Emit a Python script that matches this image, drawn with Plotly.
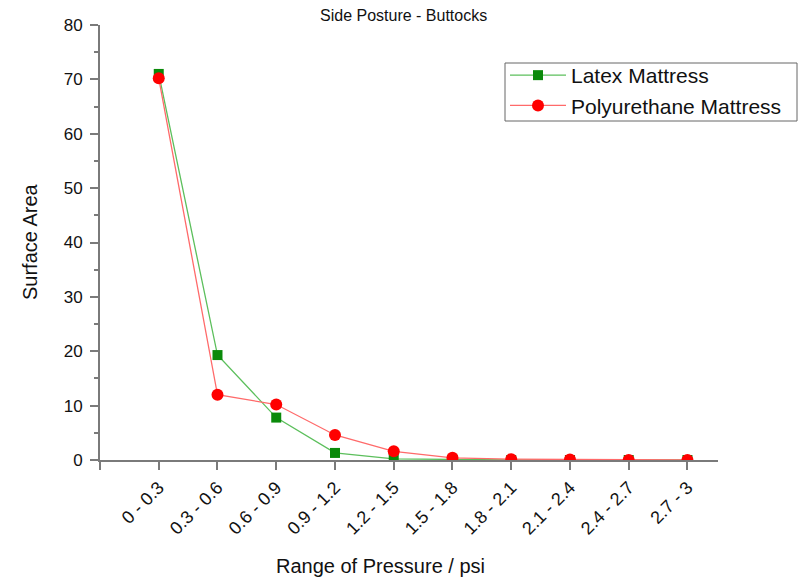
import plotly.graph_objects as go

categories = ["0 - 0.3", "0.3 - 0.6", "0.6 - 0.9", "0.9 - 1.2", "1.2 - 1.5",
              "1.5 - 1.8", "1.8 - 2.1", "2.1 - 2.4", "2.4 - 2.7", "2.7 - 3"]
latex = [71.0, 19.3, 7.8, 1.3, 0.2, 0.05, 0.0, 0.0, 0.0, 0.0]
polyurethane = [70.2, 12.0, 10.2, 4.6, 1.6, 0.4, 0.15, 0.1, 0.0, 0.0]

xpos = list(range(len(categories)))
font = "Liberation Sans, Arial, sans-serif"

# page geometry (pixels)
W, H = 801, 586
L, R, T, B = 100, 83, 25, 126
PW, PH = W - L - R, H - T - B


def px_x(x):
    return (x - L) / PW


def px_y(y):
    return (H - B - y) / PH


fig = go.Figure()
fig.add_trace(go.Scatter(
    x=xpos, y=latex, name="Latex Mattress", mode="lines+markers",
    line=dict(color="#5cbf5c", width=1.3),
    marker=dict(symbol="square", size=10, color="#0a8a0a"),
))
fig.add_trace(go.Scatter(
    x=xpos, y=polyurethane, name="Polyurethane Mattress", mode="lines+markers",
    line=dict(color="#ff6a6a", width=1.3),
    marker=dict(symbol="circle", size=12, color="#ff0000"),
))

axis_color = "#7a7a7a"
fig.update_layout(
    width=W, height=H,
    paper_bgcolor="white", plot_bgcolor="white",
    margin=dict(l=L, r=R, t=T, b=B),
    font=dict(family=font, color="#111"),
    showlegend=True,
    legend=dict(
        x=px_x(505), y=px_y(55), xanchor="left", yanchor="top",
        borderwidth=0, bgcolor="rgba(0,0,0,0)",
        font=dict(size=21, family=font), tracegroupgap=0,
        itemwidth=56,
    ),
    xaxis=dict(
        range=[-1, 9.52], showgrid=False, zeroline=False,
        showline=True, linecolor=axis_color, linewidth=2,
        tickmode="array", tickvals=[-1] + xpos, ticktext=[""] + categories,
        ticks="outside", ticklen=8, tickwidth=2, tickcolor=axis_color,
        tickangle=-45, tickfont=dict(size=18, family=font),
    ),
    yaxis=dict(
        range=[0, 80], showgrid=False, zeroline=False,
        showline=True, linecolor=axis_color, linewidth=2,
        tickmode="linear", tick0=0, dtick=10,
        ticks="outside", ticklen=8, tickwidth=2, tickcolor=axis_color,
        tickfont=dict(size=17, family=font), ticklabelstandoff=4,
        minor=dict(dtick=5, ticks="outside", ticklen=4, tickwidth=2, tickcolor=axis_color),
    ),
    shapes=[
        # legend frame
        dict(type="rect", xref="paper", yref="paper",
             x0=px_x(505), x1=px_x(797), y0=px_y(121), y1=px_y(63),
             line=dict(color="#666", width=1), fillcolor="rgba(0,0,0,0)"),
    ],
    annotations=[
        dict(text="Side Posture - Buttocks", x=px_x(403), y=px_y(15),
             font=dict(size=16, family=font)),
        dict(text="Range of Pressure / psi", x=px_x(380), y=px_y(566),
             font=dict(size=20, family=font)),
        dict(text="Surface Area", x=px_x(30), y=px_y(242), textangle=-90,
             font=dict(size=20, family=font)),
    ],
)
fig.update_annotations(xref="paper", yref="paper", showarrow=False,
                       xanchor="center", yanchor="middle")

fig.write_html("out.html")
